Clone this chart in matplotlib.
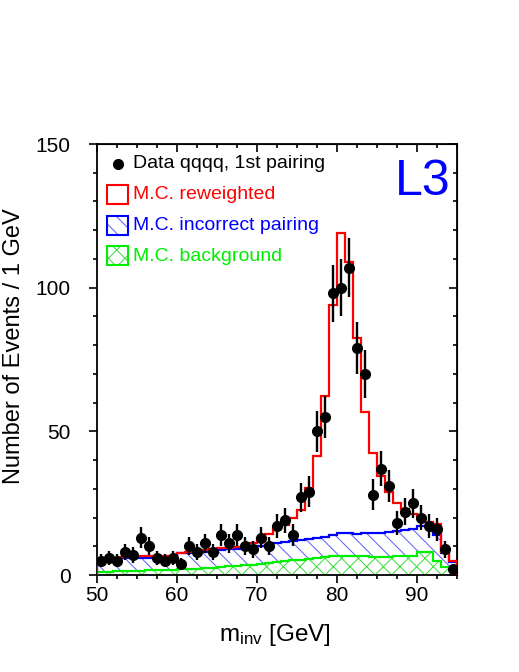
import numpy as np
import matplotlib
matplotlib.use('Agg')
import matplotlib.pyplot as plt
from matplotlib.patches import Rectangle
from matplotlib.ticker import MultipleLocator

# ---------------- data ----------------
bin_edges = list(range(50, 96))  # 1 GeV bins, 50..95

data_counts = [5, 6, 5, 8, 7, 13, 10, 6, 5, 6,
               4, 10, 8, 11, 8, 14, 11, 14, 10, 9,
               13, 10, 17, 19, 14, 27, 29, 50, 55, 98,
               100, 107, 79, 70, 28, 37, 31, 18, 22, 25,
               20, 17, 16, 9, 2]

mc_reweighted = [5.8, 5.8, 5.8, 6.2, 6.2, 6.5, 6.5, 6.5, 6.5, 6.5,
                 7.8, 8.0, 8.3, 8.7, 9.0, 9.3, 9.5, 9.9, 10.2, 11.0,
                 12.8, 14.3, 16.2, 17.4, 19.7, 22.6, 30.2, 41.4, 62.3, 94.0,
                 119.2, 109.1, 82.4, 56.6, 42.5, 34.5, 29.0, 25.0, 23.0, 21.2,
                 20.5, 18.6, 17.8, 8.0, 4.8]

mc_incorrect = [5.5, 5.5, 5.5, 6.0, 6.0, 6.0, 6.0, 6.0, 6.0, 6.0,
                7.5, 7.6, 7.8, 8.0, 8.3, 8.6, 8.9, 9.2, 9.5, 9.8,
                10.2, 10.6, 11.0, 11.4, 11.8, 12.2, 12.6, 13.0, 13.4, 13.8,
                14.5, 14.5, 14.3, 14.5, 14.6, 14.8, 15.0, 15.2, 15.5, 16.0,
                17.0, 16.8, 14.0, 7.5, 4.5]

mc_background = [1.0, 1.2, 1.3, 1.4, 1.5, 1.5, 1.6, 1.7, 1.8, 1.8,
                 2.0, 2.1, 2.2, 2.4, 2.6, 2.8, 3.0, 3.2, 3.4, 3.6,
                 3.9, 4.2, 4.5, 4.8, 5.1, 5.4, 5.7, 6.0, 6.3, 6.5,
                 6.6, 6.6, 6.5, 6.5, 6.4, 6.4, 6.4, 6.5, 6.6, 6.7,
                 7.9, 7.9, 4.9, 2.9, 2.9]

legend_labels = ["Data qqqq, 1st pairing", "M.C. reweighted",
                 "M.C. incorrect pairing", "M.C. background"]

# ---------------- style ----------------
plt.rcParams['font.family'] = ['Liberation Sans', 'DejaVu Sans']
plt.rcParams['mathtext.fontset'] = 'custom'
plt.rcParams['mathtext.rm'] = 'Liberation Sans'
plt.rcParams['mathtext.it'] = 'Liberation Sans:italic'
plt.rcParams['hatch.linewidth'] = 0.7

RED = '#ff0000'
BLUE = '#0000ff'
GREEN = '#00ee00'
BLUE_HATCH = '#5a5aff'
GREEN_HATCH = '#33dd33'

fig = plt.figure(figsize=(5.19, 6.72), dpi=100)
ax = fig.add_axes([0.187, 0.1443, 0.6936, 0.6414])

edges = np.array(bin_edges, dtype=float)
centers = 0.5 * (edges[:-1] + edges[1:])
counts = np.array(data_counts, dtype=float)

# filled hatched areas
ax.stairs(mc_incorrect, edges, fill=True, facecolor='none', edgecolor=BLUE_HATCH,
          hatch='\\\\', linewidth=0, zorder=1)
ax.stairs(mc_background, edges, fill=True, facecolor='white', edgecolor=GREEN_HATCH,
          hatch='xx', linewidth=0, zorder=2)
# outlines
ax.stairs(mc_incorrect, edges, color=BLUE, linewidth=1.6, zorder=3)
ax.stairs(mc_background, edges, color=GREEN, linewidth=1.6, zorder=3)
ax.stairs(mc_reweighted, edges, color=RED, linewidth=1.6, zorder=4)

# data
ax.errorbar(centers, counts, yerr=np.sqrt(counts), fmt='o', color='black',
            markersize=7, elinewidth=1.7, capsize=0, zorder=5)

ax.set_xlim(50, 95)
ax.set_ylim(0, 150)

ax.xaxis.set_major_locator(MultipleLocator(10))
ax.xaxis.set_minor_locator(MultipleLocator(2.5))
ax.yaxis.set_major_locator(MultipleLocator(50))
ax.yaxis.set_minor_locator(MultipleLocator(10))

for s in ax.spines.values():
    s.set_linewidth(1.3)

ax.tick_params(which='both', direction='out', top=False, right=False, width=1.2,
               labelsize=15)
ax.tick_params(which='major', length=6)
ax.tick_params(which='minor', length=3)
ax.tick_params(axis='y', which='major', pad=13)
ax.tick_params(axis='x', which='major', pad=2)

secx = ax.secondary_xaxis('top')
secx.xaxis.set_major_locator(MultipleLocator(10))
secx.xaxis.set_minor_locator(MultipleLocator(2.5))
secx.tick_params(which='both', direction='in', labeltop=False, width=1.2)
secx.tick_params(which='major', length=6)
secx.tick_params(which='minor', length=3)

secy = ax.secondary_yaxis('right')
secy.yaxis.set_major_locator(MultipleLocator(50))
secy.yaxis.set_minor_locator(MultipleLocator(10))
secy.tick_params(which='both', direction='in', labelright=False, width=1.2)
secy.tick_params(which='major', length=6)
secy.tick_params(which='minor', length=3)

ax.set_xlabel(r'm$_{\rm inv}$ [GeV]', fontsize=17.5)
ax.xaxis.set_label_coords(0.494, -0.139)
ax.xaxis.label.set_va('center')
ax.set_ylabel('Number of Events / 1 GeV', fontsize=17)
ax.yaxis.set_label_coords(-0.231, 0.53)
ax.yaxis.label.set_va('center')

# legend (manual)
tr = ax.transAxes
ax.plot([0.058], [0.954], 'o', color='black', markersize=7, transform=tr, zorder=6)
ax.text(0.099, 0.954, legend_labels[0], color='black', fontsize=14,
        va='center', ha='left', transform=tr)
ax.add_patch(Rectangle((0.028, 0.860), 0.058, 0.044, transform=tr,
                       facecolor='white', edgecolor=RED, linewidth=1.5, zorder=6))
ax.text(0.099, 0.882, legend_labels[1], color=RED, fontsize=14,
        va='center', ha='left', transform=tr)
ax.add_patch(Rectangle((0.028, 0.789), 0.058, 0.044, transform=tr,
                       facecolor='white', edgecolor=BLUE_HATCH, hatch='\\\\',
                       linewidth=0, zorder=6))
ax.add_patch(Rectangle((0.028, 0.789), 0.058, 0.044, transform=tr,
                       facecolor='none', edgecolor=BLUE, linewidth=1.5, zorder=7))
ax.text(0.099, 0.812, legend_labels[2], color=BLUE, fontsize=14,
        va='center', ha='left', transform=tr)
ax.add_patch(Rectangle((0.028, 0.719), 0.058, 0.044, transform=tr,
                       facecolor='white', edgecolor=GREEN_HATCH, hatch='xx',
                       linewidth=0, zorder=6))
ax.add_patch(Rectangle((0.028, 0.719), 0.058, 0.044, transform=tr,
                       facecolor='none', edgecolor=GREEN, linewidth=1.5, zorder=7))
ax.text(0.099, 0.740, legend_labels[3], color=GREEN, fontsize=14,
        va='center', ha='left', transform=tr)

ax.text(0.981, 0.882, 'L3', color=BLUE, fontsize=36, ha='right', va='baseline',
        transform=tr)

fig.savefig('out.png', dpi=100)
